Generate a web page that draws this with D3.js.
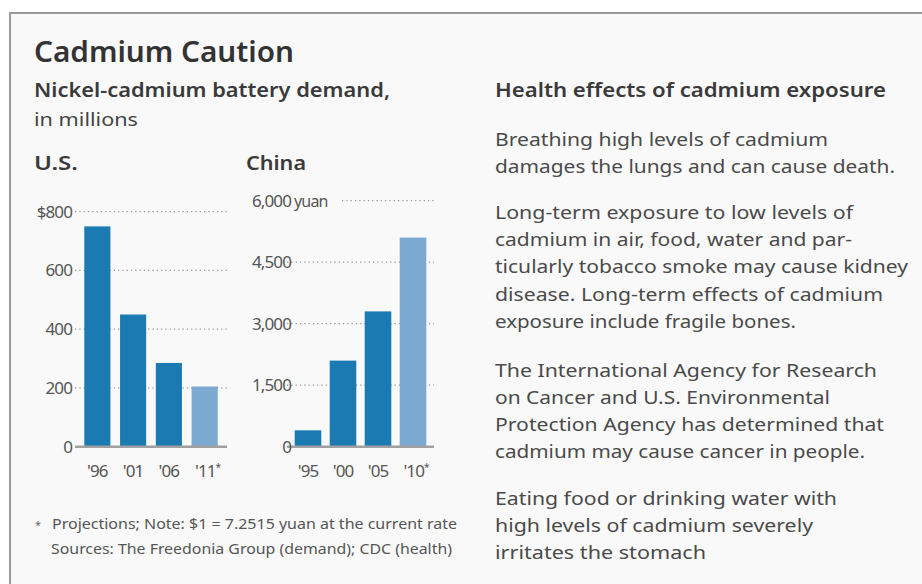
<!DOCTYPE html>
<html>
<head>
<meta charset="utf-8">
<script src="https://cdn.jsdelivr.net/npm/d3@7"></script>
<style>
  html, body { margin: 0; padding: 0; background: #fff; }
  svg { display: block; }
  text { font-family: "Noto Sans", "Open Sans", sans-serif; }
</style>
</head>
<body>
<svg id="chart" width="922" height="584"></svg>
<script>
// ---- data ----
const usYears = ["'96", "'01", "'06", "'11"];
const usValues = [750, 450, 285, 205];
const usProjected = [false, false, false, true];
const usTicks = [0, 200, 400, 600, 800];

const chinaYears = ["'95", "'00", "'05", "'10"];
const chinaValues = [400, 2100, 3300, 5100];
const chinaProjected = [false, false, false, true];
const chinaTicks = [0, 1500, 3000, 4500, 6000];

const title = "Cadmium Caution";
const subtitle1 = "Nickel-cadmium battery demand,";
const subtitle2 = "in millions";
const healthHeader = "Health effects of cadmium exposure";
const healthParagraphs = [
  ["Breathing high levels of cadmium", "damages the lungs and can cause death."],
  ["Long-term exposure to low levels of", "cadmium in air, food, water and par-", "ticularly tobacco smoke may cause kidney", "disease. Long-term effects of cadmium", "exposure include fragile bones."],
  ["The International Agency for Research", "on Cancer and U.S. Environmental", "Protection Agency has determined that", "cadmium may cause cancer in people."],
  ["Eating food or drinking water with", "high levels of cadmium severely", "irritates the stomach"]
];
const footnote1 = "Projections; Note: $1 = 7.2515 yuan at the current rate";
const footnote2 = "Sources: The Freedonia Group (demand); CDC (health)";

// ---- drawing ----
const svg = d3.select("#chart");
const DARK = "#1c7ab2", LIGHT = "#7ba9cf";

svg.append("rect").attr("x", 11).attr("y", 13).attr("width", 911).attr("height", 571).attr("fill", "#f9f9f9");
svg.append("line").attr("x1", 10).attr("x2", 922).attr("y1", 13).attr("y2", 13).attr("stroke", "#9a9a9a").attr("stroke-width", 2);
svg.append("line").attr("x1", 10).attr("x2", 10).attr("y1", 12).attr("y2", 584).attr("stroke", "#9a9a9a").attr("stroke-width", 2);

function fitText(sel, w) { sel.attr("textLength", w).attr("lengthAdjust", "spacingAndGlyphs"); return sel; }

fitText(svg.append("text").attr("x", 34).attr("y", 62).attr("font-size", 29).attr("font-weight", 600).attr("fill", "#333").text(title), 260);
fitText(svg.append("text").attr("x", 34).attr("y", 97).attr("font-size", 19.5).attr("font-weight", 600).attr("fill", "#3a3a3a").text(subtitle1), 356);
fitText(svg.append("text").attr("x", 34).attr("y", 126).attr("font-size", 18).attr("fill", "#444").text(subtitle2), 104);
fitText(svg.append("text").attr("x", 34).attr("y", 170).attr("font-size", 19.5).attr("font-weight", 600).attr("fill", "#3a3a3a").text("U.S."), 44);
fitText(svg.append("text").attr("x", 246).attr("y", 170).attr("font-size", 19.5).attr("font-weight", 600).attr("fill", "#3a3a3a").text("China"), 60);

function drawBars(opts) {
  const { years, values, projected, ticks, x0, x1, yTop, maxV, pi, po, topLabel, gridStartTop, labelX } = opts;
  const y = d3.scaleLinear().domain([0, maxV]).range([446.7, yTop]);
  const x = d3.scaleBand().domain(years).range([x0, x1]).paddingInner(pi).paddingOuter(po);
  const g = svg.append("g");
  // gridlines
  ticks.filter(t => t > 0).forEach(t => {
    const startX = (t === maxV && gridStartTop) ? gridStartTop : x0;
    g.append("line").attr("x1", startX).attr("x2", x1).attr("y1", y(t)).attr("y2", y(t))
      .attr("stroke", "#999").attr("stroke-width", 1.3).attr("stroke-dasharray", "1.3,3");
  });
  // bars
  g.selectAll("rect.bar").data(values).enter().append("rect")
    .attr("x", (d, i) => x(years[i])).attr("width", x.bandwidth())
    .attr("y", d => y(d)).attr("height", d => y(0) - y(d))
    .attr("fill", (d, i) => projected[i] ? LIGHT : DARK);
  // baseline
  g.append("line").attr("x1", x0).attr("x2", x1).attr("y1", y(0)).attr("y2", y(0))
    .attr("stroke", "#a0a0a0").attr("stroke-width", 2.5);
  // y tick labels
  ticks.forEach(t => {
    const tx = g.append("text").attr("x", labelX).attr("y", y(t) + 6).attr("text-anchor", "end")
      .attr("font-size", 17).attr("fill", "#555").attr("letter-spacing", -0.9);
    if (t === maxV) {
      tx.text(topLabel.prefix + d3.format(",")(t));
      if (topLabel.suffix) {
        g.append("text").attr("x", labelX + 3).attr("y", y(t) + 6).attr("font-size", 16)
          .attr("fill", "#555").attr("letter-spacing", -0.8).text(topLabel.suffix);
      }
    } else {
      tx.text(d3.format(",")(t));
    }
  });
  // x labels
  years.forEach((yr, i) => {
    const t = g.append("text").attr("x", x(yr) + x.bandwidth() / 2 + (projected[i] ? 3 : 0)).attr("y", 477)
      .attr("text-anchor", "middle").attr("font-size", 17).attr("fill", "#555").attr("letter-spacing", -0.9).text(yr);
    if (projected[i]) {
      t.append("tspan").attr("font-size", 10).attr("dy", -6).text("*");
    }
  });
}

drawBars({ years: usYears, values: usValues, projected: usProjected, ticks: usTicks,
  x0: 75, x1: 227, yTop: 211.7, maxV: 800, pi: 0.27, po: 0.26, topLabel: { prefix: "$", suffix: "" }, labelX: 72 });
drawBars({ years: chinaYears, values: chinaValues, projected: chinaProjected, ticks: chinaTicks,
  x0: 287, x1: 434, yTop: 200.7, maxV: 6000, pi: 0.24, po: 0.22, topLabel: { prefix: "", suffix: "yuan" }, gridStartTop: 342, labelX: 291 });

// footnotes
svg.append("text").attr("x", 35).attr("y", 529).attr("font-size", 11).attr("fill", "#666").text("*");
fitText(svg.append("text").attr("x", 52).attr("y", 529).attr("font-size", 13.5).attr("fill", "#555").text(footnote1), 405);
fitText(svg.append("text").attr("x", 51).attr("y", 554).attr("font-size", 13.5).attr("fill", "#555").text(footnote2), 401);

// right column
fitText(svg.append("text").attr("x", 495).attr("y", 97).attr("font-size", 19.5).attr("font-weight", 600).attr("fill", "#3a3a3a").text(healthHeader), 391);

const lineWidths = [
  [333, 400],
  [358, 357, 413, 388, 301],
  [382, 335, 389, 370],
  [342, 318, 211]
];
const paraStarts = [146, 219, 376.7, 505];
healthParagraphs.forEach((para, pi) => {
  para.forEach((line, li) => {
    fitText(svg.append("text").attr("x", 495).attr("y", paraStarts[pi] + li * 27.2)
      .attr("font-size", 18.5).attr("fill", "#4a4a4a").text(line), lineWidths[pi][li]);
  });
});
</script>
</body>
</html>
